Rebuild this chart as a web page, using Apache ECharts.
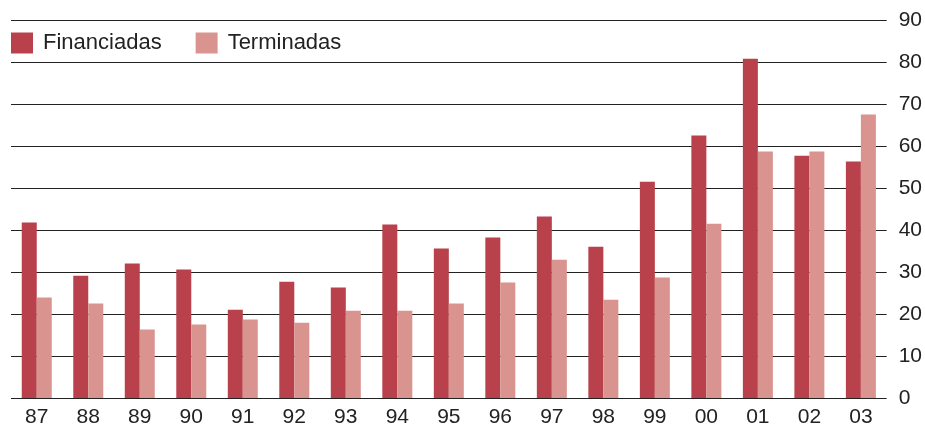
<!DOCTYPE html>
<html>
<head>
<meta charset="utf-8">
<script src="https://cdn.jsdelivr.net/npm/echarts@6/dist/echarts.min.js"></script>
<style>
  html, body { margin: 0; padding: 0; background: #fff; }
  #chart { width: 925px; height: 428px; }
</style>
</head>
<body>
<div id="chart"></div>
<script>
const years = ['87', '88', '89', '90', '91', '92', '93', '94', '95', '96', '97', '98', '99', '00', '01', '02', '03'];
const financiadas = [41.8, 29.1, 32.0, 30.6, 21.0, 27.7, 26.3, 41.3, 35.6, 38.2, 43.2, 36.0, 51.5, 62.5, 80.8, 57.7, 56.3];
const terminadas = [23.9, 22.5, 16.3, 17.5, 18.7, 17.9, 20.8, 20.8, 22.5, 27.5, 32.9, 23.4, 28.7, 41.5, 58.7, 58.7, 67.5];
const yTicks = [0, 10, 20, 30, 40, 50, 60, 70, 80, 90];

const colors = ['#B9414C', '#D9948F'];
const fontFamily = '"Liberation Sans", Arial, sans-serif';

const myChart = echarts.init(document.getElementById('chart'));
myChart.setOption({
  animation: false,
  color: colors,
  textStyle: { fontFamily },
  legend: {
    left: 11,
    top: 32,
    padding: 0,
    itemWidth: 22,
    itemHeight: 21,
    itemGap: 34,
    icon: 'rect',
    textStyle: { fontSize: 22, color: '#222', padding: [0, 0, 0, 5], fontFamily },
    data: ['Financiadas', 'Terminadas'],
  },
  grid: {
    left: 11,
    right: 37,
    top: 20,
    bottom: 30,
    containLabel: false,
  },
  xAxis: {
    type: 'category',
    data: years,
    axisLine: { show: false },
    axisTick: { show: false },
    axisLabel: { fontSize: 21, color: '#222', margin: 9, fontFamily },
  },
  yAxis: {
    type: 'value',
    position: 'right',
    min: yTicks[0],
    max: yTicks[yTicks.length - 1],
    interval: 10,
    axisLine: { show: false },
    axisTick: { show: false },
    splitLine: { lineStyle: { color: '#222', width: 1.2 } },
    axisLabel: { fontSize: 21, color: '#222', margin: 12, fontFamily },
  },
  series: [
    {
      name: 'Financiadas',
      type: 'bar',
      data: financiadas,
      barWidth: 15,
      barGap: '0%',
    },
    {
      name: 'Terminadas',
      type: 'bar',
      data: terminadas,
      barWidth: 15,
      barGap: '0%',
    },
  ],
});
</script>
</body>
</html>
